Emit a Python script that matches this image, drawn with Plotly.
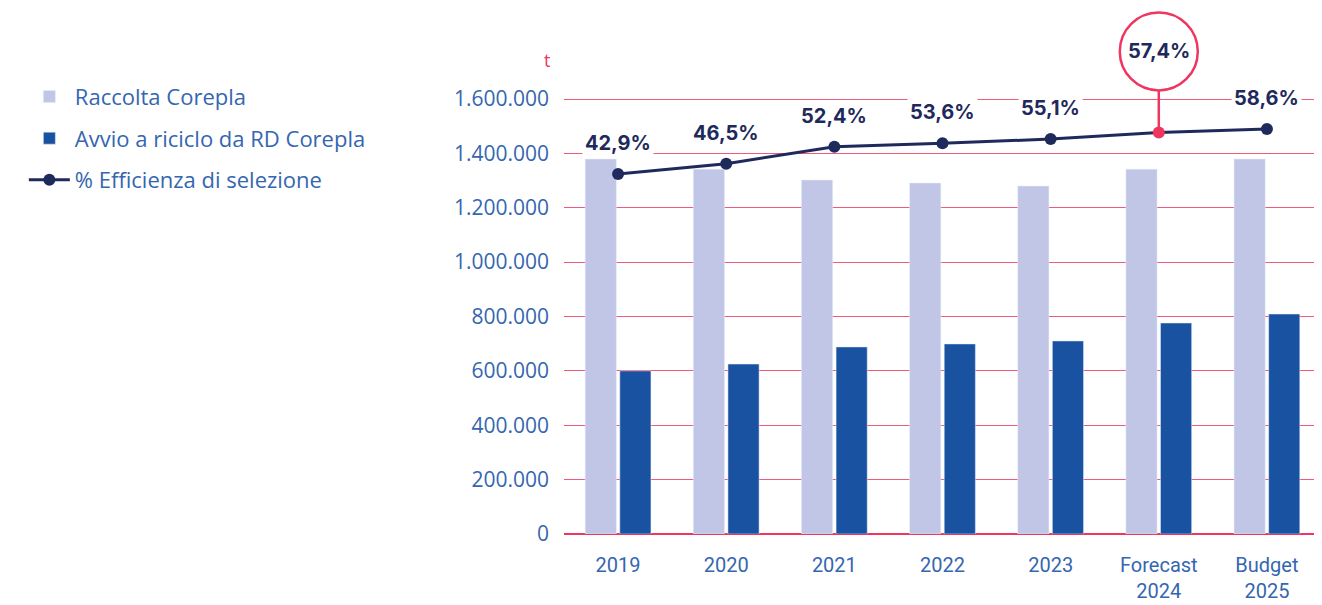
# plot.py
# Corepla: raccolta, avvio a riciclo e % efficienza di selezione

import plotly.graph_objects as go

years = ["2019", "2020", "2021", "2022", "2023", "Forecast<br>2024", "Budget<br>2025"]
raccolta = [1379000, 1342000, 1302000, 1291000, 1280000, 1342000, 1379000]
avvio = [600000, 625000, 688000, 699000, 710000, 776000, 809000]
efficienza = [42.9, 46.5, 52.4, 53.6, 55.1, 57.4, 58.6]
eff_labels = ["42,9%", "46,5%", "52,4%", "53,6%", "55,1%", "57,4%", "58,6%"]
highlight = 5  # Forecast 2024

NAVY = "#1f2a5c"
RED = "#ee3660"
BLUE_TXT = "#3566b0"

fig = go.Figure()

fig.add_trace(go.Bar(x=years, y=raccolta, name="Raccolta Corepla",
                     marker=dict(color="#c1c5e6"), legendgroup="a"))
fig.add_trace(go.Bar(x=years, y=avvio, name="Avvio a riciclo da RD Corepla",
                     marker=dict(color="#1a52a2"), legendgroup="b"))
fig.add_trace(go.Scatter(
    x=years, y=efficienza, yaxis="y2", name="% Efficienza di selezione",
    mode="lines+markers", line=dict(color=NAVY, width=3),
    marker=dict(size=12, color=[RED if i == highlight else NAVY for i in range(len(years))]),
    cliponaxis=False, legendgroup="c",
))

# percent labels
for i, (yr, v, lab) in enumerate(zip(years, efficienza, eff_labels)):
    if i == highlight:
        fig.add_shape(type="line", xref="x", yref="y2", xsizemode="pixel", ysizemode="pixel",
                      xanchor=i, yanchor=v, x0=0, x1=0, y0=0, y1=42,
                      line=dict(color=RED, width=2.5), layer="above")
        fig.add_shape(type="circle", xref="x", yref="y2", xsizemode="pixel", ysizemode="pixel",
                      xanchor=i, yanchor=v, x0=-39, x1=39, y0=42, y1=120,
                      line=dict(color=RED, width=2.5), fillcolor="white", layer="above")
        fig.add_annotation(x=i, y=v, yref="y2", text=lab, showarrow=False, yshift=81,
                           font=dict(family="Inter", size=20, color=NAVY, weight="bold"))
    else:
        fig.add_annotation(x=i, y=v, yref="y2", text=lab, showarrow=False, yshift=31,
                           bgcolor="white", borderpad=2,
                           font=dict(family="Inter", size=20, color=NAVY, weight="bold"))

fig.add_annotation(x=0, xref="paper", xanchor="right", xshift=-12, y=1600000, yshift=39,
                   text="t", showarrow=False, font=dict(family="Open Sans", size=18, color=RED))

fig.update_layout(
    width=1322, height=605,
    margin=dict(l=556, r=9, t=0, b=79, autoexpand=False),
    plot_bgcolor="white", paper_bgcolor="white",
    separators=",.",
    barmode="group", bargap=0.36, bargroupgap=0.1,
    font=dict(family="Open Sans", color=BLUE_TXT),
    legend=dict(xref="container", yref="container", x=0.012, y=0.888, itemwidth=41,
                xanchor="left", yanchor="top", traceorder="grouped", tracegroupgap=10,
                font=dict(family="Open Sans", size=22, color=BLUE_TXT)),
    xaxis=dict(type="category", categoryorder="array", categoryarray=years,
               range=[-0.5, len(years) - 0.5],
               showgrid=False, showline=False, ticks="",
               ticklabelstandoff=17, automargin=False,
               tickfont=dict(family="Roboto", size=20, color=BLUE_TXT)),
    yaxis=dict(range=[0, 1934713], tickvals=[0, 200000, 400000, 600000, 800000,
                                             1000000, 1200000, 1400000, 1600000],
               tickformat=",d", showgrid=True, gridcolor="#f25a7a", gridwidth=1,
               zeroline=True, zerolinecolor=RED, zerolinewidth=1.5, automargin=False,
               ticklabelstandoff=14, tickfont=dict(size=21, color=BLUE_TXT)),
    yaxis2=dict(overlaying="y", range=[-82.5, 100.74], visible=False, showgrid=False),
)

fig.write_html("out.html")
